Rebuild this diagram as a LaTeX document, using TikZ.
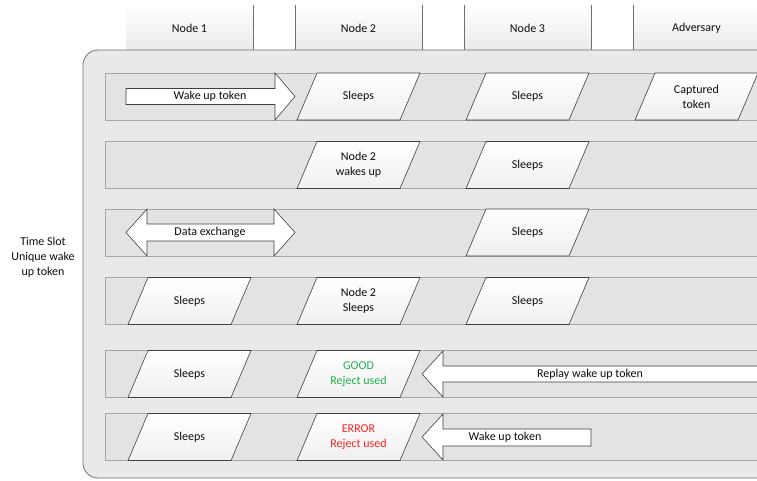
\documentclass[tikz,border=0pt]{standalone}
\usepackage{fontspec}
\setmainfont{Carlito}

\definecolor{frameback}{HTML}{E9E9E9}
\definecolor{bandback}{HTML}{E3E3E3}
\definecolor{edgegray}{HTML}{707070}
\definecolor{goodgreen}{HTML}{22B14C}
\definecolor{errred}{HTML}{FF2020}

% parallelogram for one node in one time slot: name, x, y, text
\newcommand{\tslot}[4]{%
	\draw[slot] (#2-61.5,#3+23.5) -- (#2-41.5,#3-23.5) -- (#2+61.5,#3-23.5) -- (#2+41.5,#3+23.5) -- cycle;
	\node[lbl] (#1) at (#2,#3) {#4};
}

\begin{document}
\begin{tikzpicture}[x=1pt,y=-1pt,font=\fontsize{12}{15}\selectfont]
		\tikzset{head/.style={top color=white,bottom color=black!8,draw=none}}
		\tikzset{band/.style={fill=bandback,draw=black!35,line width=0.6pt}}
		\tikzset{slot/.style={top color=white,bottom color=black!6,draw=black!75,line width=0.6pt}}
		\tikzset{arr/.style={fill=white,draw=black!75,line width=0.6pt}}
		\tikzset{lbl/.style={align=center,text=black!95,inner sep=1pt}}
		\useasboundingbox (0,0) rectangle (757,481);
		\clip (0,0) rectangle (757,481);
		% column heads
		\fill[head] (126,5) rectangle (253,50);
		\fill[head] (295,5) rectangle (422,50);
		\fill[head] (464,5) rectangle (591,50);
		\fill[head] (633,5) rectangle (780,50);
		\foreach \x in {253,295,422,464,591,633}
			\draw[edgegray,line width=0.7pt] (\x,5) -- (\x,50);
		\node[lbl] (h1) at (189.5,28) {Node 1};
		\node[lbl] (h2) at (358.5,28) {Node 2};
		\node[lbl] (h3) at (527.5,28) {Node 3};
		\node[lbl] (h4) at (696.5,28) {Adversary};
		% frame and time slots
		\draw[fill=frameback,draw=edgegray,line width=0.8pt,rounded corners=15pt] (83,50) rectangle (800,478);
		\foreach \y in {96.5,165,232.5,301,374,437}
			\draw[band] (105,\y-23.5) rectangle (780,\y+23.5);
		\node[lbl] (ts) at (43,257) {Time Slot\\Unique wake\\up token};
		% slot 1
		\draw[arr] (126,88.5) -- (275,88.5) -- (275,73) -- (295,96.5) -- (275,120) -- (275,104.5) -- (126,104.5) -- cycle;
		\node[lbl] (wake1) at (210,96.5) {Wake up token};
		\tslot{s12}{358.5}{96.5}{Sleeps}
		\tslot{s13}{527.5}{96.5}{Sleeps}
		\tslot{s14}{696.5}{96.5}{Captured\\token}
		% slot 2
		\tslot{s22}{358.5}{165}{Node 2\\wakes up}
		\tslot{s23}{527.5}{165}{Sleeps}
		% slot 3
		\draw[arr] (126,232.5) -- (147,209) -- (147,224) -- (274,224) -- (274,209) -- (295,232.5) -- (274,256) -- (274,241) -- (147,241) -- (147,256) -- cycle;
		\node[lbl] (data) at (210,232.5) {Data exchange};
		\tslot{s33}{527.5}{232.5}{Sleeps}
		% slot 4
		\tslot{s41}{189.5}{301}{Sleeps}
		\tslot{s42}{358.5}{301}{Node 2\\Sleeps}
		\tslot{s43}{527.5}{301}{Sleeps}
		% slot 5
		\tslot{s51}{189.5}{374}{Sleeps}
		\tslot{s52}{358.5}{374}{\textcolor{goodgreen}{GOOD}\\\textcolor{goodgreen}{Reject used}}
		\draw[arr] (422,374) -- (443,351) -- (443,366) -- (790,366) -- (790,382) -- (443,382) -- (443,397) -- cycle;
		\node[lbl] (replay) at (590,374) {Replay wake up token};
		% slot 6
		\tslot{s61}{189.5}{437}{Sleeps}
		\tslot{s62}{358.5}{437}{\textcolor{errred}{ERROR}\\\textcolor{errred}{Reject used}}
		\draw[arr] (422,437) -- (443,414) -- (443,429) -- (591,429) -- (591,446) -- (443,446) -- (443,460) -- cycle;
		\node[lbl] (wake6) at (505,437) {Wake up token};
\end{tikzpicture}
\end{document}
